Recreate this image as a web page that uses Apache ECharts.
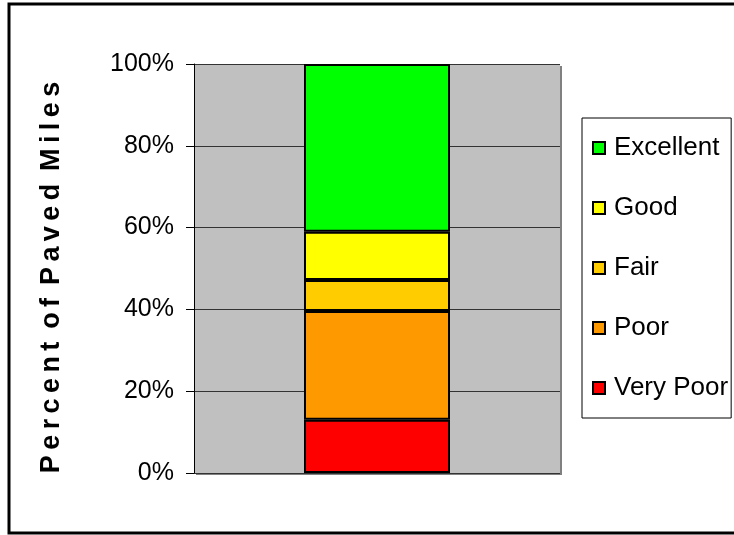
<!DOCTYPE html>
<html>
<head>
<meta charset="utf-8">
<script src="https://cdn.jsdelivr.net/npm/echarts@6/dist/echarts.min.js"></script>
<style>
  html, body { margin: 0; padding: 0; background: #fff; }
  #chart { width: 734px; height: 535px; }
</style>
</head>
<body>
<div id="chart"></div>
<script>
// pavement condition, share of paved miles (%)
const categories = ['']
const veryPoor = [13.0]
const poor = [26.6]
const fair = [7.6]
const good = [11.8]
const excellent = [41.0]
const yTicks = [0, 20, 40, 60, 80, 100]

const labelFont = "'Liberation Sans', Arial, sans-serif"
// spaced-out axis title (thin spaces between letters)
const T = '\u2009'
const yTitle = ['Percent', 'of', 'Paved', 'Miles'].map(w => w.split('').join(T)).join(' ' + T)

const myChart = echarts.init(document.getElementById('chart'))

function makeSeries (name, data, color) {
  return {
    name: name,
    type: 'bar',
    stack: 'total',
    barWidth: 146,
    data: data,
    itemStyle: {
      color: color,
      borderColor: '#000',
      borderWidth: 2
    }
  }
}

const option = {
  animation: false,
  graphic: [{
    // outer chart frame
    type: 'rect',
    shape: { x: 9, y: 4, width: 740, height: 529 },
    style: { fill: 'none', stroke: '#000', lineWidth: 3 },
    silent: true
  }],
  grid: {
    left: 194,
    right: 174,
    top: 64,
    bottom: 62,
    show: true,
    backgroundColor: '#c0c0c0',
    borderWidth: 0,
    shadowColor: '#808080',
    shadowOffsetX: 2,
    shadowOffsetY: 2,
    shadowBlur: 0
  },
  legend: {
    orient: 'vertical',
    left: 582,
    top: 118,
    data: ['Excellent', 'Good', 'Fair', 'Poor', 'Very Poor'],
    icon: 'rect',
    itemWidth: 12,
    itemHeight: 12,
    itemGap: 34,
    padding: [17, 3, 17, 10],
    backgroundColor: '#fff',
    borderColor: '#000',
    borderWidth: 1,
    textStyle: {
      fontFamily: labelFont,
      fontSize: 26,
      lineHeight: 24,
      color: '#000',
      padding: [0, 0, 0, 4]
    }
  },
  xAxis: {
    type: 'category',
    data: categories,
    axisLine: { show: false },
    axisTick: { show: false },
    axisLabel: { show: false }
  },
  yAxis: {
    type: 'value',
    min: yTicks[0],
    max: yTicks[yTicks.length - 1],
    interval: 20,
    name: yTitle,
    nameLocation: 'middle',
    nameGap: 129,
    nameTextStyle: {
      fontFamily: labelFont,
      fontWeight: 'bold',
      fontSize: 27,
      color: '#000',
      padding: [0, 18, 0, 0]
    },
    axisLine: { show: true, lineStyle: { color: '#000', width: 1 } },
    axisTick: { show: true, length: 8, lineStyle: { color: '#000' } },
    axisLabel: {
      margin: 20,
      fontFamily: labelFont,
      fontSize: 25,
      color: '#000',
      formatter: v => v + '%'
    },
    splitLine: { show: true, lineStyle: { color: '#333', width: 1 } }
  },
  series: [
    makeSeries('Very Poor', veryPoor, '#ff0000'),
    makeSeries('Poor', poor, '#ff9900'),
    makeSeries('Fair', fair, '#ffcc00'),
    makeSeries('Good', good, '#ffff00'),
    makeSeries('Excellent', excellent, '#00ff00')
  ]
}

myChart.setOption(option, true)
window.addEventListener('resize', function () {
  myChart.resize()
})
</script>
</body>
</html>
